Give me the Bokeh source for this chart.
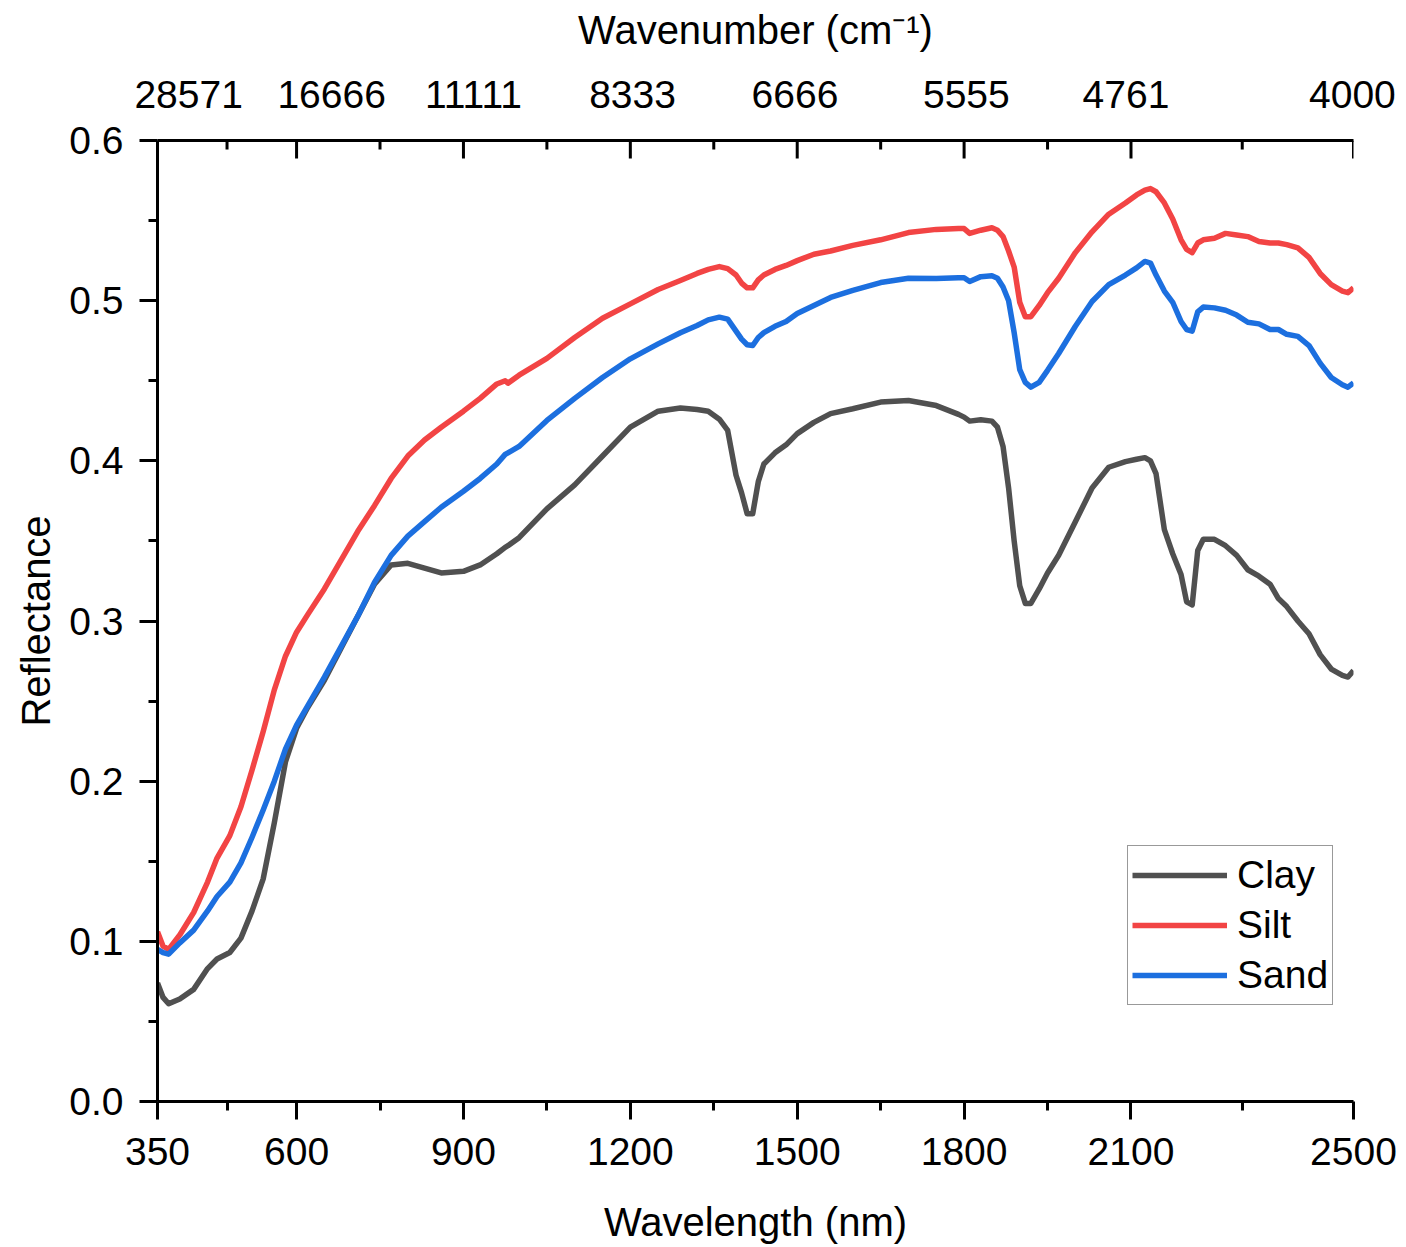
from bokeh.plotting import figure
from bokeh.models import Range1d, LinearAxis, FixedTicker, PrintfTickFormatter, Legend, LegendItem
from bokeh.embed import file_html
from bokeh.resources import INLINE

# ---------------- data ----------------
wavelength = [350, 360, 370, 390, 415, 440, 457, 480, 500, 520, 540, 560, 580, 600, 620, 650, 680, 710,
              740, 770, 800, 830, 860, 900, 930, 960, 975, 980, 1000, 1050, 1100, 1150, 1200, 1250, 1290,
              1320, 1340, 1360, 1375, 1390, 1400, 1410, 1420, 1430, 1440, 1460, 1480, 1500, 1530, 1560,
              1600, 1650, 1700, 1750, 1790, 1800, 1810, 1830, 1850, 1860, 1870, 1880, 1890, 1900, 1910,
              1920, 1935, 1950, 1970, 2000, 2030, 2060, 2090, 2110, 2125, 2135, 2145, 2160, 2175, 2190,
              2200, 2210, 2220, 2230, 2250, 2270, 2290, 2310, 2330, 2350, 2365, 2380, 2400, 2420, 2440,
              2460, 2480, 2490, 2500]

clay = [0.074, 0.065, 0.061, 0.064, 0.070, 0.083, 0.089, 0.093, 0.102, 0.119, 0.139, 0.174, 0.212, 0.233,
        0.246, 0.263, 0.283, 0.303, 0.323, 0.335, 0.336, 0.333, 0.330, 0.331, 0.335, 0.342, 0.346, 0.347,
        0.352, 0.370, 0.385, 0.403, 0.421, 0.431, 0.433, 0.432, 0.431, 0.426, 0.419, 0.391, 0.380, 0.367,
        0.367, 0.387, 0.398, 0.405, 0.410, 0.417, 0.424, 0.4295, 0.4325, 0.4367, 0.4377, 0.4345, 0.429,
        0.4273, 0.4248, 0.4256, 0.4248, 0.421, 0.409, 0.383, 0.350, 0.322, 0.311, 0.311, 0.320, 0.330,
        0.341, 0.362, 0.383, 0.396, 0.3995, 0.401, 0.402, 0.400, 0.392, 0.357, 0.342, 0.329, 0.312, 0.310,
        0.344, 0.351, 0.351, 0.347, 0.341, 0.332, 0.328, 0.323, 0.314, 0.309, 0.300, 0.292, 0.279, 0.270,
        0.266, 0.265, 0.269]

silt = [0.106, 0.097, 0.095, 0.104, 0.118, 0.137, 0.152, 0.166, 0.184, 0.207, 0.231, 0.257, 0.278, 0.293,
        0.304, 0.320, 0.338, 0.356, 0.372, 0.389, 0.403, 0.413, 0.421, 0.431, 0.439, 0.448, 0.450, 0.4485,
        0.4535, 0.464, 0.477, 0.489, 0.498, 0.507, 0.5126, 0.517, 0.5195, 0.5213, 0.520, 0.516, 0.511,
        0.508, 0.508, 0.513, 0.516, 0.5195, 0.522, 0.525, 0.529, 0.531, 0.5345, 0.538, 0.5425, 0.5445,
        0.545, 0.545, 0.542, 0.544, 0.5455, 0.544, 0.540, 0.531, 0.521, 0.499, 0.490, 0.490, 0.497, 0.505,
        0.514, 0.530, 0.543, 0.554, 0.561, 0.566, 0.569, 0.570, 0.568, 0.561, 0.551, 0.538, 0.532, 0.530,
        0.536, 0.538, 0.539, 0.542, 0.541, 0.540, 0.537, 0.536, 0.536, 0.535, 0.533, 0.527, 0.517, 0.510,
        0.506, 0.505, 0.508]

sand = [0.095, 0.093, 0.092, 0.099, 0.107, 0.119, 0.128, 0.137, 0.149, 0.165, 0.182, 0.200, 0.220, 0.235,
        0.247, 0.265, 0.284, 0.303, 0.324, 0.341, 0.353, 0.362, 0.371, 0.381, 0.389, 0.398, 0.404, 0.405,
        0.409, 0.4252, 0.439, 0.452, 0.4637, 0.473, 0.480, 0.4845, 0.488, 0.4897, 0.4885, 0.481, 0.476,
        0.4725, 0.472, 0.477, 0.480, 0.484, 0.487, 0.492, 0.497, 0.502, 0.5064, 0.5113, 0.514, 0.5138,
        0.5143, 0.5143, 0.512, 0.515, 0.5155, 0.514, 0.5085, 0.500, 0.480, 0.457, 0.449, 0.446, 0.449,
        0.4565, 0.467, 0.484, 0.4995, 0.510, 0.516, 0.5205, 0.5245, 0.5235, 0.516, 0.506, 0.499, 0.487,
        0.482, 0.481, 0.493, 0.496, 0.4955, 0.494, 0.491, 0.4865, 0.4855, 0.482, 0.482, 0.479, 0.4777,
        0.472, 0.461, 0.452, 0.4475, 0.446, 0.4487]

series_names = ["Clay", "Silt", "Sand"]

x_major_ticks = [350, 600, 900, 1200, 1500, 1800, 2100, 2500]
x_minor_ticks = [475, 750, 1050, 1350, 1650, 1950, 2300]
y_major_ticks = [0.0, 0.1, 0.2, 0.3, 0.4, 0.5, 0.6]
y_minor_ticks = [0.05, 0.15, 0.25, 0.35, 0.45, 0.55]
wavenumber_labels = ["28571", "16666", "11111", "8333", "6666", "5555", "4761", "4000"]

# ---------------- layout / style ----------------
FONT = "Liberation Sans"
FRAME_W, FRAME_H = 1196, 961
X0, X1 = 350, 2500
Y0, Y1 = 0.0, 0.6
px_per_nm = FRAME_W / (X1 - X0)
px_per_unit_y = FRAME_H / (Y1 - Y0)
# horizontal shift (px) of each top label relative to its wavelength tick
top_label_shift_px = [31, 35, 10, 2, -2, 2, -5, -1]
top_label_pos = [round(w + s / px_per_nm) for w, s in zip(x_major_ticks, top_label_shift_px)]
MAJOR_TICK_PX, MINOR_TICK_PX = 18, 9

colors = ["#505050", "#F24444", "#1C6FDF"]

p = figure(frame_width=FRAME_W, frame_height=FRAME_H,
           x_range=Range1d(X0, X1), y_range=Range1d(Y0, Y1),
           output_backend="svg", toolbar_location=None,
           x_axis_location=None, y_axis_location=None,
           min_border_left=157, min_border_right=45, min_border_top=140, min_border_bottom=140)
p.xgrid.visible = False
p.ygrid.visible = False
p.outline_line_color = None
p.background_fill_color = "white"


def style_axis(ax):
    ax.axis_line_width = 3
    ax.axis_line_color = "black"
    ax.major_tick_line_width = 3
    ax.minor_tick_line_width = 3
    ax.major_tick_line_color = "black"
    ax.minor_tick_line_color = "black"
    ax.major_label_text_font = FONT
    ax.major_label_text_font_size = "39px"
    ax.major_label_text_color = "black"
    ax.axis_label_text_font = FONT
    ax.axis_label_text_font_size = "40px"
    ax.axis_label_text_font_style = "normal"
    ax.axis_label_text_color = "black"


xb = LinearAxis(ticker=FixedTicker(ticks=x_major_ticks, minor_ticks=x_minor_ticks),
                axis_label="Wavelength (nm)")
style_axis(xb)
xb.major_tick_out = MAJOR_TICK_PX
xb.major_tick_in = 0
xb.minor_tick_out = MINOR_TICK_PX
xb.minor_tick_in = 0
xb.major_label_standoff = 18
xb.axis_label_standoff = 32
p.add_layout(xb, "below")

yl = LinearAxis(ticker=FixedTicker(ticks=y_major_ticks, minor_ticks=y_minor_ticks),
                formatter=PrintfTickFormatter(format="%.1f"), axis_label="Reflectance")
style_axis(yl)
yl.major_tick_out = MAJOR_TICK_PX
yl.major_tick_in = 0
yl.minor_tick_out = MINOR_TICK_PX
yl.minor_tick_in = 0
yl.major_label_standoff = 16
yl.axis_label_standoff = 8
p.add_layout(yl, "left")

# top axis: wavenumber labels and title (tick marks drawn inward below)
xt = LinearAxis(ticker=FixedTicker(ticks=top_label_pos, minor_ticks=[]),
                major_label_overrides={pos: lab for pos, lab in zip(top_label_pos, wavenumber_labels)},
                axis_label="Wavenumber (cm\u207b\u00b9)")
style_axis(xt)
xt.major_tick_line_color = None
xt.minor_tick_line_color = None
xt.major_tick_out = 0
xt.major_tick_in = 0
xt.minor_tick_out = 0
xt.minor_tick_in = 0
xt.major_label_standoff = 33
xt.axis_label_standoff = 26
p.add_layout(xt, "above")

# inward tick marks of the top axis, at the same wavelengths as the bottom axis
maj_len = MAJOR_TICK_PX / px_per_unit_y
min_len = MINOR_TICK_PX / px_per_unit_y
p.segment(x0=x_major_ticks, x1=x_major_ticks, y0=[Y1] * len(x_major_ticks),
          y1=[Y1 - maj_len] * len(x_major_ticks), line_color="black", line_width=3, line_cap="butt")
p.segment(x0=x_minor_ticks, x1=x_minor_ticks, y0=[Y1] * len(x_minor_ticks),
          y1=[Y1 - min_len] * len(x_minor_ticks), line_color="black", line_width=3, line_cap="butt")

renderers = []
for name, ys, c in zip(series_names, [clay, silt, sand], colors):
    r = p.line(wavelength, ys, line_color=c, line_width=5.5, line_join="round")
    renderers.append(r)

legend = Legend(items=[LegendItem(label=n, renderers=[r]) for n, r in zip(series_names, renderers)],
                location=(970, 96))
legend.label_text_font = FONT
legend.label_text_font_size = "39px"
legend.label_text_color = "black"
legend.glyph_width = 95
legend.glyph_height = 50
legend.label_height = 50
legend.label_standoff = 10
legend.spacing = 0
legend.padding = 4
legend.margin = 0
legend.border_line_color = "#333333"
legend.border_line_width = 1.5
legend.background_fill_color = "white"
legend.background_fill_alpha = 1
p.add_layout(legend, "center")

open("out.html", "w").write(file_html(p, INLINE))
